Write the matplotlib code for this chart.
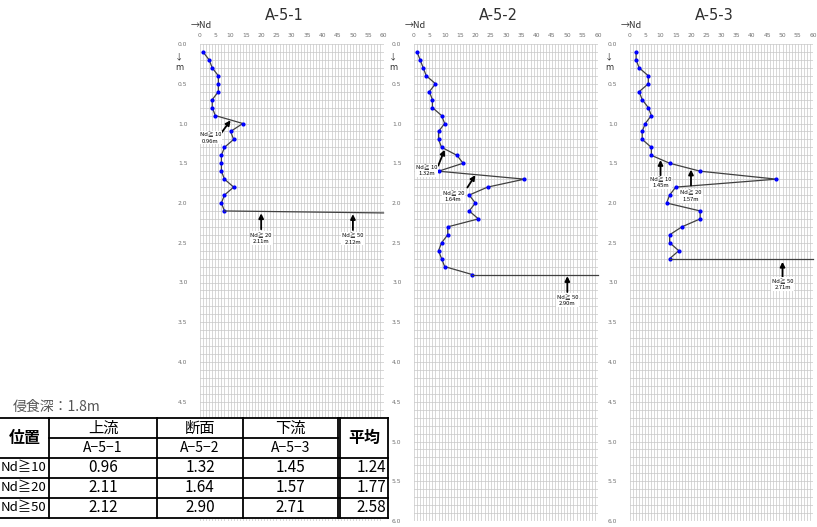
import matplotlib.pyplot as plt
from matplotlib.ticker import MultipleLocator, FormatStrFormatter

W, H = 817, 527
CJK = ['Noto Sans CJK JP', 'DejaVu Sans']

# --- data ---
titles = ['A-5-1', 'A-5-2', 'A-5-3']

depth_1 = [0.1, 0.2, 0.3, 0.4, 0.5, 0.6, 0.7, 0.8, 0.9, 1.0, 1.1, 1.2, 1.3, 1.4,
           1.5, 1.6, 1.7, 1.8, 1.9, 2.0, 2.1]
nd_1 = [1, 3, 4, 6, 6, 6, 4, 4, 5, 14, 10, 11, 8, 7, 7, 7, 8, 11, 8, 7, 8]

depth_2 = [0.1, 0.2, 0.3, 0.4, 0.5, 0.6, 0.7, 0.8, 0.9, 1.0, 1.1, 1.2, 1.3, 1.4,
           1.5, 1.6, 1.7, 1.8, 1.9, 2.0, 2.1, 2.2, 2.3, 2.4, 2.5, 2.6, 2.7, 2.8, 2.9]
nd_2 = [1, 2, 3, 4, 7, 5, 6, 6, 9, 10, 8, 8, 9, 14, 16, 8, 36, 24, 18, 20, 18, 21,
        11, 11, 9, 8, 9, 10, 19]

depth_3 = [0.1, 0.2, 0.3, 0.4, 0.5, 0.6, 0.7, 0.8, 0.9, 1.0, 1.1, 1.2, 1.3, 1.4,
           1.5, 1.6, 1.7, 1.8, 1.9, 2.0, 2.1, 2.2, 2.3, 2.4, 2.5, 2.6, 2.7]
nd_3 = [2, 2, 3, 6, 6, 3, 4, 6, 7, 5, 4, 4, 7, 7, 13, 23, 48, 15, 13, 12, 23, 23,
        17, 13, 13, 16, 13]

# depth where the last segment reaches Nd = 60
tail_depth = [2.125, 2.90, 2.70]

thresholds = [10, 20, 50]
depth_10 = [0.96, 1.32, 1.45]
depth_20 = [2.11, 1.64, 1.57]
depth_50 = [2.12, 2.90, 2.71]
mean_10, mean_20, mean_50 = 1.24, 1.77, 2.58

positions = ['上流', '断面', '下流']
erosion_depth = 1.8

depths = [depth_1, depth_2, depth_3]
nds = [nd_1, nd_2, nd_3]
crossing = [depth_10, depth_20, depth_50]

# layout: panel left/right in pixels, plot top/bottom in pixels
panel_x = [(200, 383.5), (414, 598), (630, 813)]
top_px, bot_px = 44, 521

# arrow layout per panel: threshold -> (head dy, tail dx, tail dy, text dx, text dy)
note_layout = [
    {10: (0.0, -4.2, 0.22, -6.6, 0.22), 20: (0.02, 0, 0.2, 0, 0.31), 50: (0.02, 0, 0.2, 0, 0.31)},
    {10: (0.01, -2.1, 0.2, -5.9, 0.26), 20: (0.01, -2.6, 0.155, -7.2, 0.265), 50: (0.02, 0, 0.2, 0, 0.3)},
    {10: (0.01, 0, 0.19, 0, 0.28), 20: (0.01, 0, 0.2, 0, 0.33), 50: (0.03, 0, 0.2, 0, 0.28)},
]

fig = plt.figure(figsize=(W / 100, H / 100), dpi=100)


def fx(x):
    return x / W


def fy(y):
    return 1 - y / H


for i in range(3):
    x0, x1 = panel_x[i]
    ax = fig.add_axes([fx(x0), fy(bot_px), (x1 - x0) / W, (bot_px - top_px) / H])
    ax.set_xlim(0, 60)
    ax.set_ylim(6.0, 0.0)
    ax.xaxis.tick_top()
    ax.xaxis.set_major_locator(MultipleLocator(5))
    ax.xaxis.set_minor_locator(MultipleLocator(1))
    ax.yaxis.set_major_locator(MultipleLocator(0.5))
    ax.yaxis.set_minor_locator(MultipleLocator(0.1))
    ax.yaxis.set_major_formatter(FormatStrFormatter('%.1f'))
    ax.tick_params(which='both', length=0)
    ax.tick_params(axis='x', labelsize=4.3, labelcolor='#707070', pad=4)
    ax.tick_params(axis='y', labelsize=4.3, labelcolor='#707070', pad=9)
    ax.grid(which='both', color='#c8c8c8', lw=0.5)
    ax.set_axisbelow(True)
    for s in ax.spines.values():
        s.set_visible(False)
    if i == 0:
        # the summary table sits over the lower labels of the first panel
        fig.canvas.draw()
        for tick in ax.yaxis.get_major_ticks():
            if tick.get_loc() > 4.6:
                tick.label1.set_visible(False)

    ax.plot(nds[i], depths[i], color='#404040', lw=0.9, marker='o', ms=2.0,
            mfc='#0000ff', mec='#0000ff', zorder=3)
    ax.plot([nds[i][-1], 60], [depths[i][-1], tail_depth[i]], color='#404040',
            lw=0.9, zorder=3, clip_on=False)

    for k, t in enumerate(thresholds):
        if t not in note_layout[i]:
            continue
        d = crossing[k][i]
        hdy, tdx, tdy, xdx, xdy = note_layout[i][t]
        hx, hy = t, d + hdy
        ax.annotate('', xy=(hx, hy), xytext=(hx + tdx, hy + tdy),
                    arrowprops=dict(arrowstyle='-|>', color='black', lw=1.3,
                                    mutation_scale=7, shrinkA=0, shrinkB=0),
                    zorder=5)
        ax.text(hx + xdx, hy + xdy, f'Nd≧ {t}\n{d:.2f}m', ha='center', va='center',
                fontsize=4.2, family=CJK, linespacing=1.25, zorder=6,
                bbox=dict(boxstyle='square,pad=0.15', fc='white', ec='none'))

    fig.text(fx(x0 + 0.46 * (x1 - x0)), fy(16), titles[i], ha='center', va='center',
             fontsize=10.5, color='#303030')
    fig.text(fx(x0 - 9), fy(26), '→Nd', ha='left', va='center', fontsize=6.5,
             color='#303030', family=CJK)
    fig.text(fx(x0 - 21), fy(57), '↓', ha='center', va='center', fontsize=6,
             color='#303030', family=CJK)
    fig.text(fx(x0 - 21), fy(68), 'm', ha='center', va='center', fontsize=6,
             color='#303030')

# --- summary table (pixel coordinates) ---
tab = fig.add_axes([0, 0, 1, 1], zorder=10)
tab.set_xlim(0, W)
tab.set_ylim(H, 0)
tab.axis('off')

tx0, tx1 = 0, 388
rows = [418, 438, 458, 478, 498, 518]
cols = [49, 157, 243, 338]
tab.fill_between([tx0, tx1], rows[0], rows[-1], color='white', zorder=1)
lw = 1.3
for y in [rows[0]] + rows[2:]:
    tab.plot([tx0, tx1], [y, y], color='black', lw=lw, zorder=2)
tab.plot([cols[0], cols[-1]], [rows[1], rows[1]], color='black', lw=lw, zorder=2)
for x in cols + [340, tx1]:
    tab.plot([x, x], [rows[0], rows[-1]], color='black', lw=lw, zorder=2)

tab.text(13, 407, f'侵食深：{erosion_depth}m', fontsize=10, color='#555555',
         family=CJK, ha='left', va='center')
tab.text(25, 438, '位置', fontsize=11.5, family=CJK, ha='center', va='center',
         fontweight='bold', zorder=3)
tab.text(364, 438, '平均', fontsize=11.5, family=CJK, ha='center', va='center',
         fontweight='bold', zorder=3)
for j in range(3):
    cx = (cols[j] + cols[j + 1]) / 2
    tab.text(cx, 428, positions[j], fontsize=11, family=CJK, ha='center',
             va='center', zorder=3)
    tab.text(cx, 448.5, titles[j].replace('-', '−'), fontsize=10, family=CJK,
             ha='center', va='center', zorder=3)

means = [mean_10, mean_20, mean_50]
for k, t in enumerate(thresholds):
    cy = (rows[k + 2] + rows[k + 3]) / 2
    tab.text(1, cy, f'Nd≧{t}', fontsize=9.5, family=CJK, ha='left', va='center',
             zorder=1.5)
    for j in range(3):
        cx = (cols[j] + cols[j + 1]) / 2
        tab.text(cx, cy, f'{crossing[k][j]:.2f}', fontsize=11, family=CJK,
                 ha='center', va='center', zorder=3)
    tab.text(386, cy, f'{means[k]:.2f}', fontsize=11, family=CJK, ha='right',
             va='center', zorder=3)

fig.savefig('out.png', dpi=100)
